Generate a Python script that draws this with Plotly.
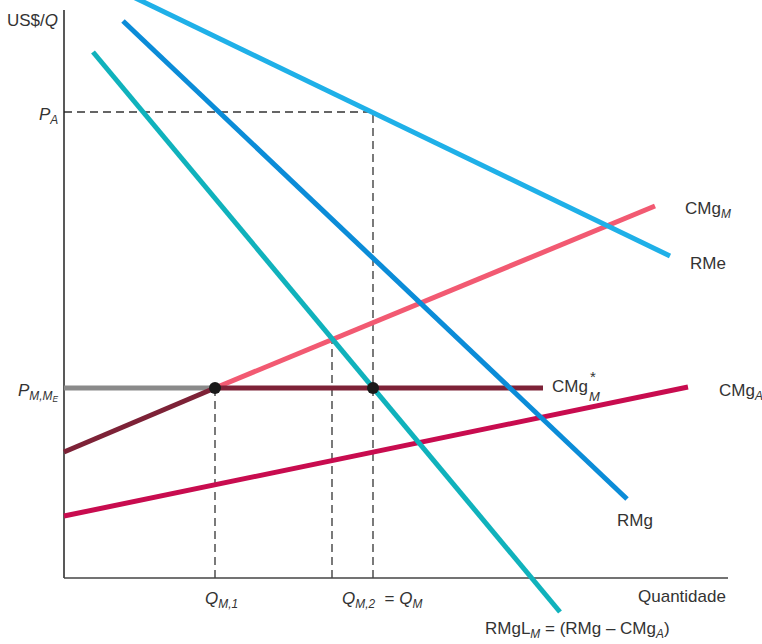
import plotly.graph_objects as go

# ---- data (quantity q, price p) ----
rme_q = [61, 606]
rme_p = [585, 322]
rmg_q = [59, 563]
rmg_p = [557, 79]
rmgl_q = [29, 496]
rmgl_p = [526, -34]
cmgm_q = [151, 591]
cmgm_p = [190, 372]
cmgm_low_q = [0, 151]
cmgm_low_p = [126, 190]
cmgm_star_q = [151, 479]
cmgm_star_p = [190, 190]
world_q = [0, 151]
world_p = [190, 190]
cmga_q = [0, 624]
cmga_p = [62, 191]

p_a = 466
p_me = 190
q_m1 = 151
q_x = 268
q_m2 = 309
pt_q = [q_m1, q_m2]
pt_p = [p_me, p_me]

FONT = "Liberation Sans Narrow, Arial Narrow, Liberation Sans, Arial, sans-serif"
TXT = "#333333"
DASH = "#333333"

fig = go.Figure()

def seg(x, y, color, width=5, dash=None):
    fig.add_trace(go.Scatter(x=x, y=y, mode="lines",
                             line=dict(color=color, width=width, dash=dash),
                             hoverinfo="skip", showlegend=False))

# dashed guides
seg([0, q_m2], [p_a, p_a], DASH, 1.3, "8px,5px")
seg([q_m2, q_m2], [0, p_a], DASH, 1.3, "8px,5px")
seg([q_m1, q_m1], [0, p_me], DASH, 1.3, "8px,5px")
seg([q_x, q_x], [0, 238], DASH, 1.3, "8px,5px")

# axes
seg([0, 0], [0, 568], "#222222", 1.5)
seg([0, 664], [0, 0], "#444444", 1.5)

# curves
seg(cmga_q, cmga_p, "#c80c4f")
seg(world_q, world_p, "#8a8a8a")
seg(cmgm_low_q, cmgm_low_p, "#7d2237")
seg(cmgm_q, cmgm_p, "#f25a72")
seg(cmgm_star_q, cmgm_star_p, "#7d2237")
seg(rme_q, rme_p, "#1fb0e8")
seg(rmg_q, rmg_p, "#0b8cd8")
seg(rmgl_q, rmgl_p, "#10b2bc")

fig.add_trace(go.Scatter(x=pt_q, y=pt_p, mode="markers",
                         marker=dict(color="#1a1a1a", size=12),
                         hoverinfo="skip", showlegend=False))

def lab(x, y, text, xanchor="left", size=17):
    fig.add_annotation(x=x, y=y, text=text, showarrow=False, xanchor=xanchor,
                       yanchor="middle", font=dict(family=FONT, size=size, color=TXT))

lab(-4, 558, "US$/<i>Q</i>", "right")
lab(-4, 462, "<i>P<sub>A</sub></i>", "right")
lab(-4, 186, "<i>P<sub>M,M<sub>E</sub></sub></i>", "right")
lab(619, 368, "CMg<sub><i>M</i></sub>")
lab(624, 315, "RMe")
lab(486, 192, "CMg")
lab(524, 202, "*", size=15)
lab(523, 182, "<i>M</i>", size=13)
lab(653, 186, "CMg<sub><i>A</i></sub>")
lab(551, 58, "RMg")
lab(139, -22, "<i>Q<sub>M,1</sub></i>")
lab(276, -22, "<i>Q<sub>M,2</sub></i>  = <i>Q<sub>M</sub></i>")
lab(664, -18, "Quantidade", "right")
lab(419, -52, "RMgL<sub><i>M</i></sub> = (RMg – CMg<sub><i>A</i></sub>)")

fig.update_layout(
    width=762, height=644,
    margin=dict(l=0, r=0, t=0, b=0),
    paper_bgcolor="white", plot_bgcolor="white",
    xaxis=dict(range=[-64, 698], visible=False, fixedrange=True),
    yaxis=dict(range=[-66, 578], visible=False, fixedrange=True),
    showlegend=False,
)

fig.write_html("out.html", config={"displayModeBar": False},
               post_script="document.body.style.margin='0';document.body.style.overflow='hidden';")
